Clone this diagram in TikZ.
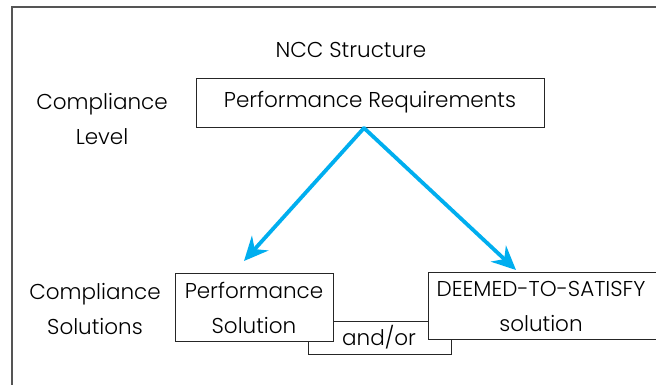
\documentclass[tikz,border=0pt]{standalone}
\usepackage{fontspec}
\setmainfont{Poppins Light}
\usetikzlibrary{arrows.meta}
\definecolor{arrowblue}{HTML}{00AEEF}
\definecolor{framegray}{HTML}{555555}
\begin{document}
\begin{tikzpicture}[x=1pt,y=-1pt,
  txt/.style={font=\fontsize{21.5}{35}\selectfont, inner sep=0pt},
  box/.style={draw=black!85, line width=1pt, fill=white},
  flow/.style={draw=arrowblue, line width=3.8pt, -{Stealth[length=24pt,width=22pt,inset=8pt]}}]
\useasboundingbox (0,0) rectangle (656,384);
\clip (0,0) rectangle (656,384);
\fill[white] (0,0) rectangle (656,384);
\draw[framegray, line width=1.5pt] (12,7) rectangle (700,420);
% and/or box (behind)
\draw[box] (308,321) rectangle (451,354);
\node[txt] (andor) at (379,337) {and/or};
% boxes
\draw[box] (196,78) rectangle (544,127);
\node[txt] (pr) at (370,102) {Performance Requirements};
\draw[box] (175,273) rectangle (333,341);
\node[txt, align=center] (ps) at (254,308) {Performance\\Solution};
\draw[box] (428,272) rectangle (670,339);
\node[txt, align=center] (dts) at (541,306) {DEEMED-TO-SATISFY\\solution};
% labels
\node[txt] (ncc) at (351,50) {NCC Structure};
\node[txt, align=center] (cl) at (102,119) {Compliance\\Level};
\node[txt, align=center] (cs) at (95,309) {Compliance\\Solutions};
% arrows
\coordinate (apex) at (364,128);
\coordinate (ltip) at (244,261);
\coordinate (rtip) at (516,270);
\draw[flow, line cap=round] (apex) -- (ltip);
\draw[flow, line cap=round] (apex) -- (rtip);
\end{tikzpicture}
\end{document}
